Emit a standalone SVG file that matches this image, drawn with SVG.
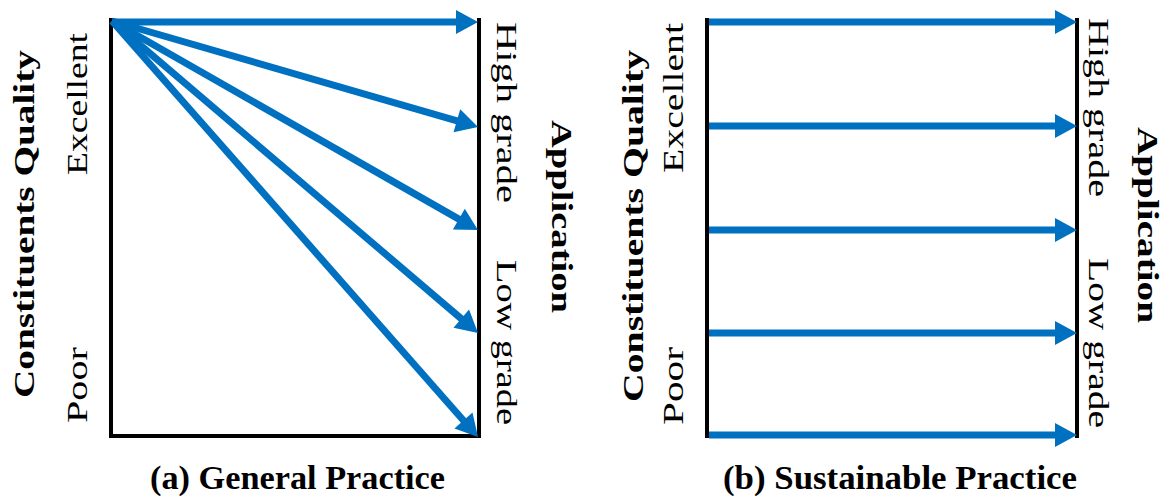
<svg xmlns="http://www.w3.org/2000/svg" width="1165" height="501" viewBox="0 0 1165 501">
<style>
.ax{stroke:#000;stroke-width:4;fill:none;stroke-linecap:square}
.ar{stroke:#0070C0;stroke-width:7;fill:none;marker-end:url(#ah)}
.t{font-family:"Liberation Serif","Times New Roman",serif;font-size:30px;fill:#000}
.b{font-weight:bold}
.cap{font-family:"Liberation Serif","Times New Roman",serif;font-size:33px;font-weight:bold;fill:#000}
</style>
<defs>
<marker id="ah" markerUnits="userSpaceOnUse" markerWidth="24" markerHeight="26" refX="2" refY="12" orient="auto" overflow="visible">
<path d="M0,0 L22,12 L0,24 z" fill="#0070C0"/>
</marker>
</defs>
<rect width="1165" height="501" fill="#fff"/>
<g id="panel-a-axes">
<path class="ax" d="M111,20 L111,436 L479,436"/>
<path class="ax" d="M479,20 L479,436"/>
</g>
<g id="panel-b-axes">
<path class="ax" d="M707,20 L707,436"/>
<path class="ax" d="M1077,20 L1077,436"/>
</g>
<g id="connectors">
<line class="ar" x1="112" y1="22" x2="458" y2="22"/>
<line class="ar" x1="112" y1="21" x2="458.8" y2="121.4"/>
<line class="ar" x1="112" y1="21" x2="460.6" y2="220.1"/>
<line class="ar" x1="112" y1="21" x2="462.8" y2="320.0"/>
<line class="ar" x1="112" y1="21" x2="464.8" y2="422.0"/>
<line class="ar" x1="709" y1="22" x2="1057" y2="22"/>
<line class="ar" x1="709" y1="126" x2="1057" y2="126"/>
<line class="ar" x1="709" y1="230" x2="1057" y2="230"/>
<line class="ar" x1="709" y1="333" x2="1057" y2="333"/>
<line class="ar" x1="709" y1="435" x2="1057" y2="435"/>
</g>
<g id="panel-a-labels">
<text class="t b" transform="translate(34,398) rotate(-90)" textLength="348" lengthAdjust="spacingAndGlyphs">Constituents Quality</text>
<text class="t" transform="translate(87,175) rotate(-90)" textLength="142" lengthAdjust="spacingAndGlyphs">Excellent</text>
<text class="t" transform="translate(87,423) rotate(-90)" textLength="76" lengthAdjust="spacingAndGlyphs">Poor</text>
<text class="t" transform="translate(497,22) rotate(90)" textLength="181" lengthAdjust="spacingAndGlyphs">High grade</text>
<text class="t" transform="translate(497,260) rotate(90)" textLength="165" lengthAdjust="spacingAndGlyphs">Low grade</text>
<text class="t b" transform="translate(552,120) rotate(90)" textLength="193" lengthAdjust="spacingAndGlyphs">Application</text>
<text class="cap" x="150" y="489" textLength="295" lengthAdjust="spacingAndGlyphs">(a) General Practice</text>
</g>
<g id="panel-b-labels">
<text class="t b" transform="translate(643,402) rotate(-90)" textLength="352" lengthAdjust="spacingAndGlyphs">Constituents Quality</text>
<text class="t" transform="translate(683,173) rotate(-90)" textLength="150" lengthAdjust="spacingAndGlyphs">Excellent</text>
<text class="t" transform="translate(683,425) rotate(-90)" textLength="78" lengthAdjust="spacingAndGlyphs">Poor</text>
<text class="t" transform="translate(1089,18) rotate(90)" textLength="179" lengthAdjust="spacingAndGlyphs">High grade</text>
<text class="t" transform="translate(1089,258) rotate(90)" textLength="170" lengthAdjust="spacingAndGlyphs">Low grade</text>
<text class="t b" transform="translate(1138,127) rotate(90)" textLength="196" lengthAdjust="spacingAndGlyphs">Application</text>
<text class="cap" x="723" y="489" textLength="354" lengthAdjust="spacingAndGlyphs">(b) Sustainable Practice</text>
</g>
</svg>
